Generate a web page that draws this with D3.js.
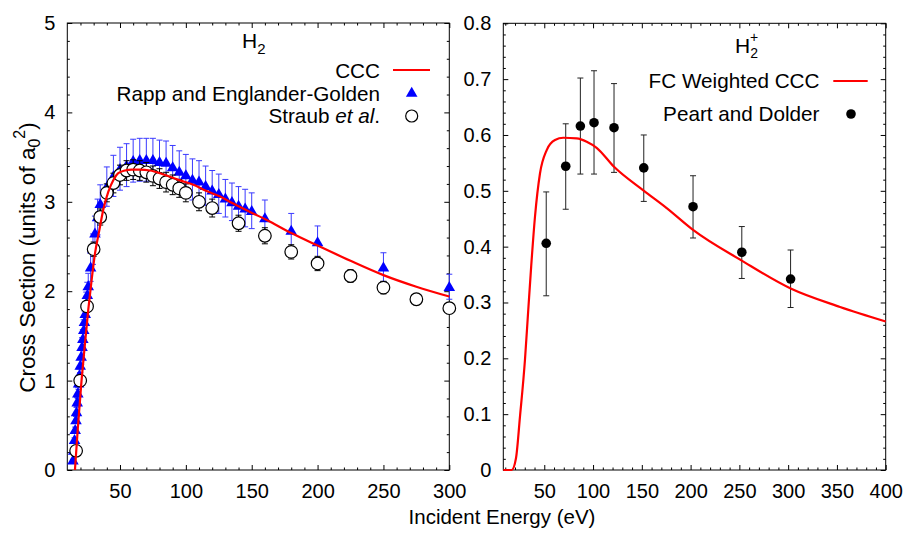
<!DOCTYPE html>
<html><head><meta charset="utf-8">
<script src="https://cdn.jsdelivr.net/npm/d3@7"></script>
<style>
body{margin:0;background:#fff}
svg text{font-family:"Liberation Sans",Arial,Helvetica,sans-serif;fill:#000}
</style>
</head><body>
<svg id="chart" width="906" height="534"></svg>
<script>
// ---------------- DATA ----------------
// Left panel: H2
const cccE = [15.8,18,20.8,23,25.9,28.5,31,34.3,37.3,41.1,44.9,48.7,53.8,58.9,65,72.8,80.4,88,95.6,105.7,115.8,126,136,151,161,180,200,225,250,275,300];
const cccV = [0,0.47,1.0,1.35,1.79,2.13,2.42,2.68,2.91,3.11,3.24,3.32,3.35,3.36,3.36,3.35,3.32,3.28,3.24,3.19,3.12,3.06,2.98,2.87,2.80,2.65,2.51,2.34,2.18,2.05,1.94];

const regE = [14.3,14.9,15.5,16.0,16.6,17.0,17.5,18.0,18.6,19.1,19.8,20.5,21.2,21.8,22.5,23.0,23.6,24.4,25.2,25.9,27.7,29.5,31,33,35,40,45,50,55,60,65,70,75,80,85,90,95,100,105,110,115,120,125,130,135,140,145,150,160,180,200,250,300];
const regV = [0.11,0.22,0.34,0.45,0.56,0.65,0.76,0.86,0.97,1.06,1.17,1.27,1.38,1.47,1.57,1.66,1.75,1.86,1.96,2.06,2.27,2.47,2.65,2.83,2.98,3.17,3.29,3.37,3.41,3.46,3.47,3.47,3.47,3.45,3.44,3.39,3.34,3.30,3.25,3.23,3.18,3.13,3.09,3.04,3.00,2.96,2.93,2.90,2.82,2.68,2.55,2.27,2.05];
const regErr = [0.01,0.02,0.02,0.03,0.04,0.05,0.05,0.06,0.07,0.07,0.08,0.09,0.10,0.10,0.11,0.12,0.12,0.13,0.14,0.14,0.16,0.17,0.19,0.20,0.21,0.22,0.23,0.24,0.24,0.24,0.24,0.24,0.24,0.24,0.24,0.24,0.23,0.23,0.23,0.23,0.22,0.22,0.22,0.21,0.21,0.21,0.21,0.20,0.20,0.19,0.18,0.16,0.14];

const straubE = [16.7,19.8,25,30,35,40,45,50,55,60,65,70,75,80,85,90,95,100,110,120,140,160,180,200,225,250,275,300];
const straubV = [0.215,1.0,1.83,2.47,2.83,3.10,3.21,3.30,3.35,3.36,3.35,3.33,3.29,3.26,3.22,3.19,3.15,3.10,3.00,2.93,2.76,2.62,2.44,2.31,2.17,2.04,1.91,1.81];
const straubErr = [0.01,0.03,0.06,0.08,0.09,0.10,0.11,0.11,0.11,0.11,0.11,0.11,0.11,0.11,0.11,0.11,0.10,0.10,0.10,0.10,0.09,0.09,0.08,0.08,0.07,0.07,0.06,0.06];

// Right panel: H2+
const fcE = [8,16.6,21,25.1,30.2,33.6,36.6,40.5,45.6,52.5,61,69.5,83.2,93.5,103.7,121.5,152.2,175.5,202.5,252.4,302.6,353.2,400];
const fcV = [0,0,0.021,0.0955,0.197,0.287,0.365,0.454,0.531,0.573,0.591,0.595,0.594,0.588,0.577,0.543,0.500,0.469,0.430,0.375,0.325,0.292,0.266];

const pdE  = [52,72,87,101,121.5,152,202.5,252.5,302.5];
const pdV  = [0.406,0.544,0.616,0.622,0.613,0.541,0.4715,0.390,0.342];
const pdHi = [0.498,0.620,0.702,0.715,0.692,0.600,0.527,0.436,0.394];
const pdLo = [0.312,0.467,0.530,0.530,0.533,0.481,0.4155,0.343,0.291];

// Ticks
const leftXTicks = [50,100,150,200,250,300];
const leftYTicks = [0,1,2,3,4,5];
const rightXTicks = [50,100,150,200,250,300,350,400];
const rightYTicks = [0,0.1,0.2,0.3,0.4,0.5,0.6,0.7,0.8];

// ---------------- DRAW ----------------
const svg = d3.select("#chart");
const FONT = 20;
const LEGFONT = 20.7;

const L = {x0:67.3, x1:449.3, y0:470, y1:23};
const R = {x0:503.3, x1:885.7, y0:470, y1:23.3};

const xL = d3.scaleLinear().domain([10,300]).range([L.x0,L.x1]);
const yL = d3.scaleLinear().domain([0,5]).range([L.y0,L.y1]);
const xR = d3.scaleLinear().domain([8,400]).range([R.x0,R.x1]);
const yR = d3.scaleLinear().domain([0,0.8]).range([R.y0,R.y1]);

function rangeStep(a,b,s){const o=[];for(let v=a;v<=b+1e-9;v+=s)o.push(+v.toFixed(6));return o;}

function drawAxes(P, x, y, xTicks, yTicks, xMinor, yMinor, yFmt){
  const g = svg.append("g");
  const strip = sel => { sel.select(".domain").remove(); sel.selectAll("line").attr("stroke","#000").attr("stroke-width",1); };
  g.append("g").attr("transform",`translate(0,${P.y0})`)
    .call(d3.axisBottom(x).tickValues(xTicks).tickSizeInner(-5).tickSizeOuter(0).tickPadding(14).tickFormat(d3.format("d")))
    .call(strip)
    .call(s=>s.selectAll("text").attr("font-size",FONT).attr("font-family",null));
  g.append("g").attr("transform",`translate(0,${P.y0})`)
    .call(d3.axisBottom(x).tickValues(xMinor).tickSizeInner(-2.5).tickSizeOuter(0).tickFormat(""))
    .call(strip);
  g.append("g").attr("transform",`translate(0,${P.y1})`)
    .call(d3.axisTop(x).tickValues(xTicks).tickSizeInner(-5).tickSizeOuter(0).tickFormat(""))
    .call(strip);
  g.append("g").attr("transform",`translate(0,${P.y1})`)
    .call(d3.axisTop(x).tickValues(xMinor).tickSizeInner(-2.5).tickSizeOuter(0).tickFormat(""))
    .call(strip);
  g.append("g").attr("transform",`translate(${P.x0},0)`)
    .call(d3.axisLeft(y).tickValues(yTicks).tickSizeInner(-5).tickSizeOuter(0).tickPadding(12).tickFormat(yFmt))
    .call(strip)
    .call(s=>s.selectAll("text").attr("font-size",FONT).attr("font-family",null));
  g.append("g").attr("transform",`translate(${P.x0},0)`)
    .call(d3.axisLeft(y).tickValues(yMinor).tickSizeInner(-2.5).tickSizeOuter(0).tickFormat(""))
    .call(strip);
  g.append("g").attr("transform",`translate(${P.x1},0)`)
    .call(d3.axisRight(y).tickValues(yTicks).tickSizeInner(-5).tickSizeOuter(0).tickFormat(""))
    .call(strip);
  g.append("g").attr("transform",`translate(${P.x1},0)`)
    .call(d3.axisRight(y).tickValues(yMinor).tickSizeInner(-2.5).tickSizeOuter(0).tickFormat(""))
    .call(strip);
  g.append("rect").attr("x",P.x0).attr("y",P.y1).attr("width",P.x1-P.x0).attr("height",P.y0-P.y1)
    .attr("fill","none").attr("stroke","#000").attr("stroke-width",1);
}

drawAxes(L, xL, yL, leftXTicks, leftYTicks,
  rangeStep(20,290,10).filter(v=>v%50!==0),
  rangeStep(0.2,4.8,0.2).filter(v=>Math.abs(v-Math.round(v))>1e-6),
  d3.format("d"));
drawAxes(R, xR, yR, rightXTicks, rightYTicks,
  rangeStep(10,390,10).filter(v=>v%50!==0),
  rangeStep(0.02,0.78,0.02).filter(v=>Math.abs(v*10-Math.round(v*10))>1e-6),
  d => d===0 ? "0" : d3.format(".1f")(d));

function errBars(g, xs, lo, hi, x, y, color, cap){
  xs.forEach((e,i)=>{
    const px = x(e), a = y(lo[i]), b = y(hi[i]);
    g.append("line").attr("x1",px).attr("x2",px).attr("y1",a).attr("y2",b).attr("stroke",color).attr("stroke-width",1);
    g.append("line").attr("x1",px-cap).attr("x2",px+cap).attr("y1",a).attr("y2",a).attr("stroke",color).attr("stroke-width",1);
    g.append("line").attr("x1",px-cap).attr("x2",px+cap).attr("y1",b).attr("y2",b).attr("stroke",color).attr("stroke-width",1);
  });
}

const tri = d3.symbol().type(d3.symbolTriangle).size(58);

// ---- Left panel data ----
const gl = svg.append("g");
errBars(gl, regE, regV.map((v,i)=>v-regErr[i]), regV.map((v,i)=>v+regErr[i]), xL, yL, "#3a3aff", 3);
gl.selectAll("path.reg").data(regE).join("path").attr("class","reg")
  .attr("d",tri).attr("fill","#0000ff")
  .attr("transform",(d,i)=>`translate(${xL(d)},${yL(regV[i])+1})`);
errBars(gl, straubE, straubV.map((v,i)=>v-straubErr[i]), straubV.map((v,i)=>v+straubErr[i]), xL, yL, "#000", 3);
gl.selectAll("circle.st").data(straubE).join("circle").attr("class","st")
  .attr("cx",d=>xL(d)).attr("cy",(d,i)=>yL(straubV[i])).attr("r",6.3)
  .attr("fill","#fff").attr("stroke","#000").attr("stroke-width",1.2);
gl.append("path").datum(cccE.map((e,i)=>[e,cccV[i]]))
  .attr("d",d3.line().x(d=>xL(d[0])).y(d=>yL(d[1])).curve(d3.curveMonotoneX))
  .attr("fill","none").attr("stroke","#ff0000").attr("stroke-width",2.2);

// ---- Right panel data ----
const gr = svg.append("g");
errBars(gr, pdE, pdLo, pdHi, xR, yR, "#222", 3);
gr.selectAll("circle.pd").data(pdE).join("circle").attr("class","pd")
  .attr("cx",d=>xR(d)).attr("cy",(d,i)=>yR(pdV[i])).attr("r",4.8).attr("fill","#000");
gr.append("path").datum(fcE.map((e,i)=>[e,fcV[i]]))
  .attr("d",d3.line().x(d=>xR(d[0])).y(d=>yR(d[1])).curve(d3.curveMonotoneX))
  .attr("fill","none").attr("stroke","#ff0000").attr("stroke-width",2.2);

// ---- Legends ----
const leg = svg.append("g").attr("font-size",LEGFONT);
leg.append("text").attr("x",380).attr("y",77.5).attr("text-anchor","end").text("CCC");
leg.append("line").attr("x1",393).attr("x2",430).attr("y1",70).attr("y2",70).attr("stroke","#ff0000").attr("stroke-width",2.2);
leg.append("text").attr("x",380).attr("y",100.5).attr("text-anchor","end").text("Rapp and Englander-Golden");
leg.append("path").attr("d",tri).attr("fill","#0000ff").attr("transform","translate(411.7,93.5)");
const st = leg.append("text").attr("x",380).attr("y",122.7).attr("text-anchor","end");
st.append("tspan").text("Straub ");
st.append("tspan").attr("font-style","italic").text("et al");
st.append("tspan").text(".");
leg.append("circle").attr("cx",411.7).attr("cy",116).attr("r",6).attr("fill","#fff").attr("stroke","#000").attr("stroke-width",1.2);

leg.append("text").attr("x",819.5).attr("y",88.3).attr("text-anchor","end").text("FC Weighted CCC");
leg.append("line").attr("x1",833.3).attr("x2",867.7).attr("y1",81).attr("y2",81).attr("stroke","#ff0000").attr("stroke-width",2.2);
leg.append("text").attr("x",819.5).attr("y",120.5).attr("text-anchor","end").text("Peart and Dolder");
leg.append("circle").attr("cx",851).attr("cy",114).attr("r",4.8).attr("fill","#000");

// ---- Titles ----
const t1 = svg.append("text").attr("x",242).attr("y",48.3).attr("font-size",21);
t1.append("tspan").text("H");
t1.append("tspan").attr("font-size",15).attr("dy",6).text("2");
const t2 = svg.append("text").attr("x",735).attr("y",53.3).attr("font-size",21);
t2.append("tspan").text("H");
t2.append("tspan").attr("font-size",14).attr("dy",5).text("2");
t2.append("tspan").attr("font-size",14).attr("dx",-8).attr("dy",-16).text("+");

// ---- Axis labels ----
svg.append("text").attr("x",502).attr("y",524).attr("text-anchor","middle").attr("font-size",20.5).text("Incident Energy (eV)");
const yl = svg.append("text").attr("transform","translate(35,257.5) rotate(-90)").attr("text-anchor","middle").attr("font-size",22.5);
yl.append("tspan").text("Cross Section (units of a");
yl.append("tspan").attr("font-size",16).attr("dy",5).text("0");
yl.append("tspan").attr("font-size",16).attr("dy",-15).text("2");
yl.append("tspan").attr("font-size",22.5).attr("dy",10).text(")");
</script>
</body></html>
